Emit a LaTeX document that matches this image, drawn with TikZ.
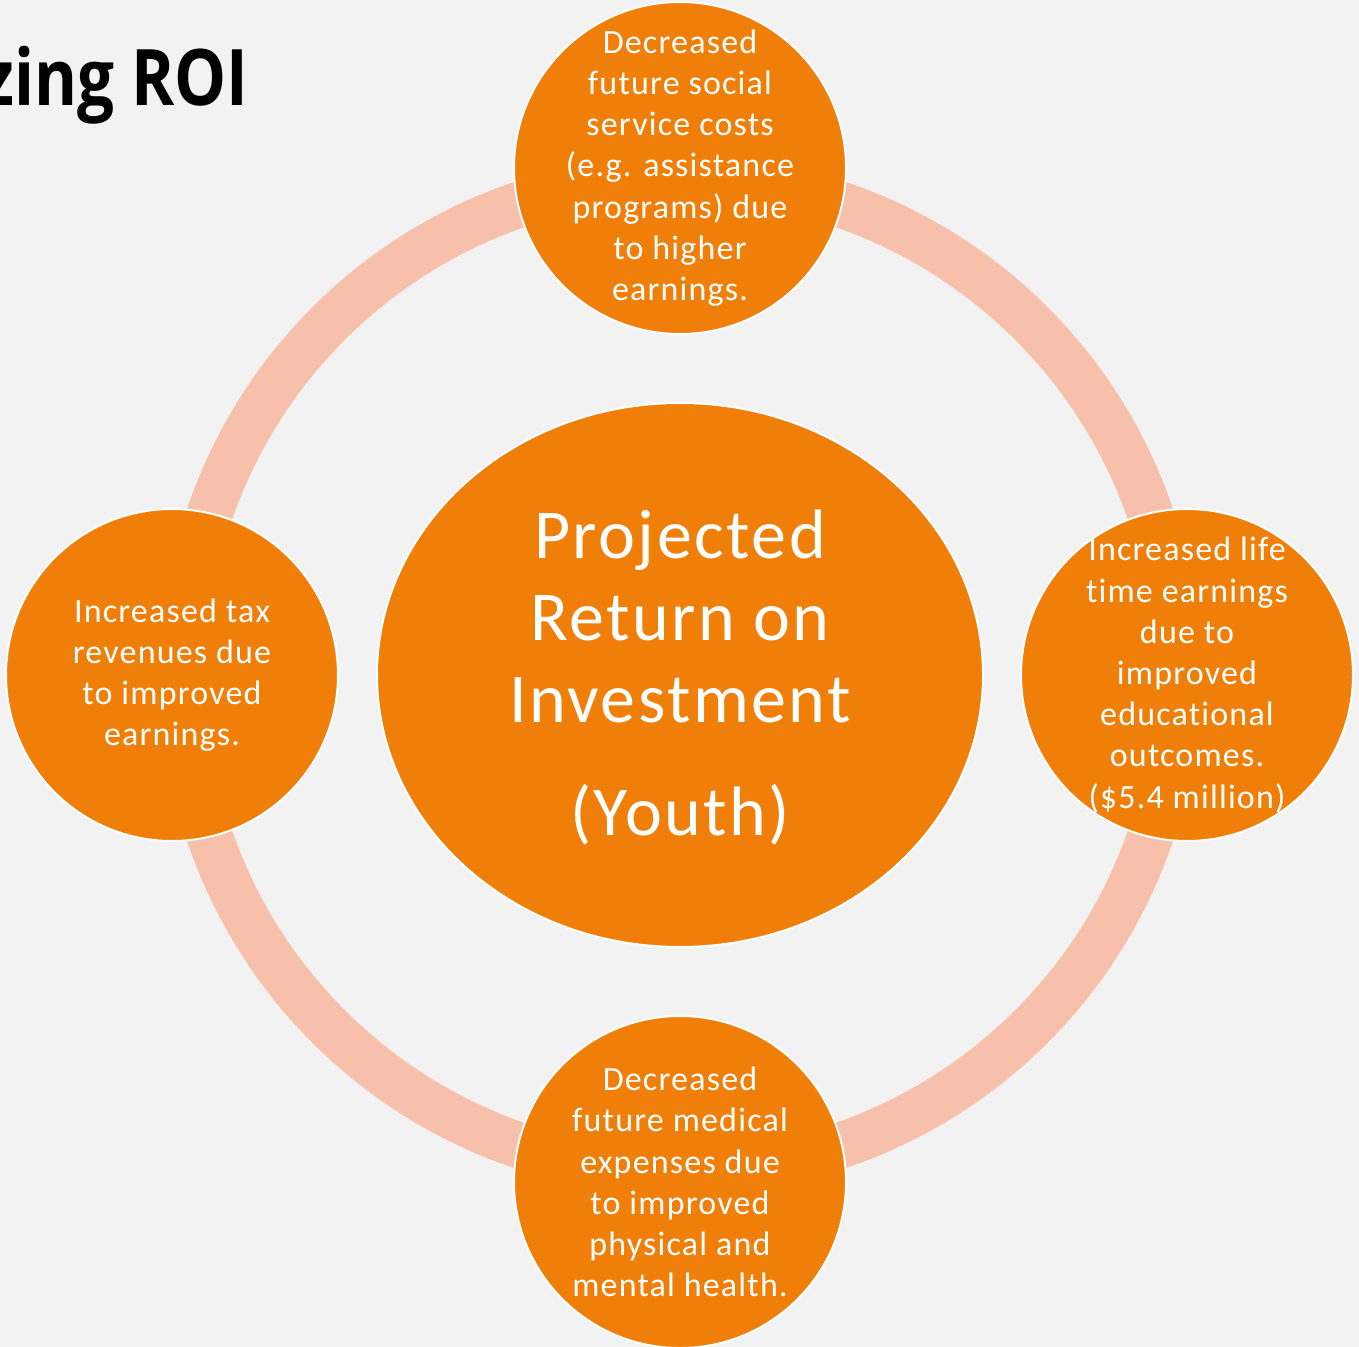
\documentclass[tikz,border=0pt]{standalone}
\usepackage{fontspec}
\setmainfont{Carlito}[LetterSpace=3.5,Ligatures={NoCommon,NoRare,NoContextual}]
\newfontfamily\titlefont{Open Sans}
\definecolor{bgc}{RGB}{242,242,242}
\definecolor{orng}{RGB}{240,127,9}
\definecolor{ringc}{RGB}{247,192,171}
\usetikzlibrary{shapes.geometric}
\begin{document}
\begin{tikzpicture}[x=0.5pt,y=-0.5pt,
  small/.style={circle,fill=orng,draw=white,line width=1pt,minimum size=166pt,inner sep=0pt},
  smalltext/.style={text=white,align=center,inner sep=0pt,font=\fontsize{17}{20.6}\selectfont},
  bigc/.style={ellipse,fill=orng,draw=white,line width=1pt,minimum width=303pt,minimum height=272pt,inner sep=0pt},
  bigtext/.style={text=white,align=center,font=\fontsize{35}{41}\selectfont}]
\fill[bgc] (0,0) rectangle (1359,1347);
\useasboundingbox (0,0) rectangle (1359,1347);
\draw[ringc,line width=23pt] (680,675) circle[radius=248.5pt];
\node[bigc] (center) at (680,675) {};
\node[bigtext] (ctext) at (680,616) {Projected\\Return on\\Investment};
\node[bigtext,anchor=base] (youth) at (680,835) {(Youth)};
\node[small] (top) at (680,168) {};
\node[small] (left) at (172,675) {};
\node[small] (right) at (1187,675) {};
\node[small] (bottom) at (680,1182) {};
\node[smalltext] (toptext) at (top.center) {Decreased\\future social\\service costs\\(e.g. assistance\\programs) due\\to higher\\earnings.};
\node[smalltext] (lefttext) at (left.center) {Increased tax\\revenues due\\to improved\\earnings.};
\node[smalltext] (righttext) at (right.center) {Increased life\\time earnings\\due to\\improved\\educational\\outcomes.\\(\$5.4 million)};
\node[smalltext] (bottomtext) at (bottom.center) {Decreased\\future medical\\expenses due\\to improved\\physical and\\mental health.};
\node[anchor=base east,inner sep=0pt,font=\titlefont\bfseries\fontsize{39}{45}\selectfont] (title) at (249,106) {\scalebox{0.84}[1]{zing ROI}};
\end{tikzpicture}
\end{document}
